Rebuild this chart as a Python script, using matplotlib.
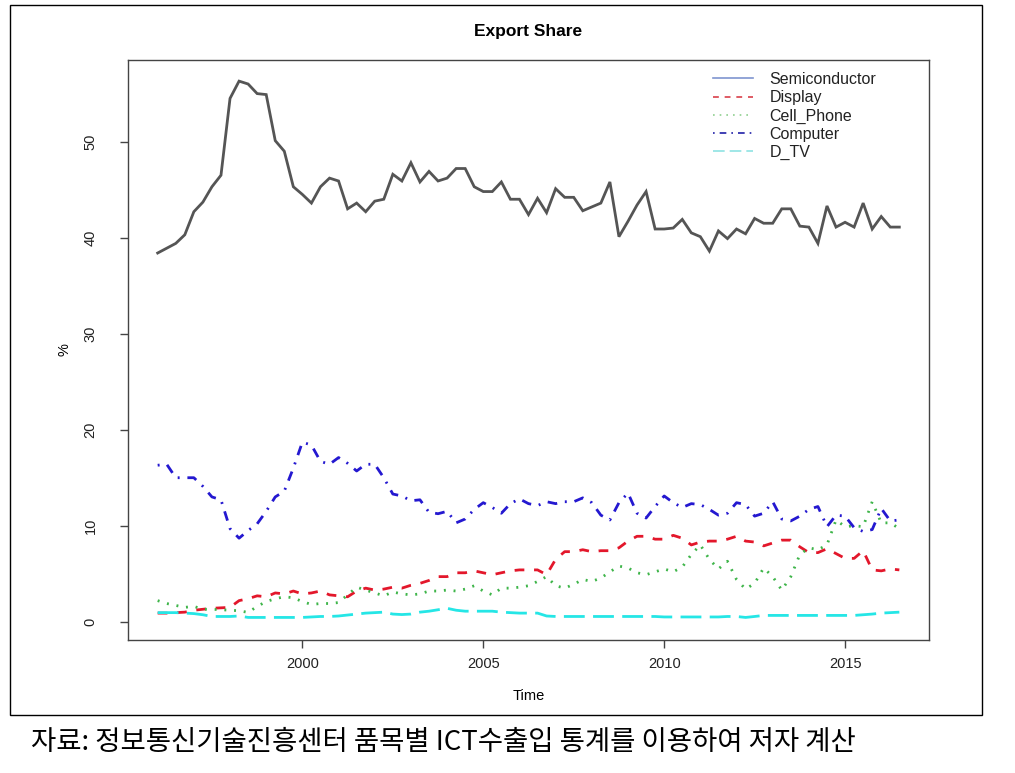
import numpy as np
import matplotlib
matplotlib.use('Agg')
import matplotlib.pyplot as plt
from matplotlib.lines import Line2D
from matplotlib.patches import Rectangle

# quarterly series, 1996 Q1 .. 2016 Q3
start_year = 1996
freq = 4

semiconductor = [38.4, 38.9, 39.4, 40.3, 42.7, 43.7, 45.3, 46.5, 54.5, 56.3,
                 56.0, 55.0, 54.9, 50.1, 49.0, 45.3, 44.5, 43.6, 45.3, 46.2,
                 45.9, 43.0, 43.6, 42.7, 43.8, 44.0, 46.6, 45.9, 47.8, 45.8,
                 46.9, 45.9, 46.2, 47.2, 47.2, 45.3, 44.8, 44.8, 45.8, 44.0,
                 44.0, 42.4, 44.1, 42.6, 45.1, 44.2, 44.2, 42.8, 43.2, 43.6,
                 45.8, 40.1, 41.7, 43.4, 44.8, 40.9, 40.9, 41.0, 41.9, 40.5,
                 40.1, 38.6, 40.7, 39.9, 40.9, 40.4, 42.0, 41.5, 41.5, 43.0,
                 43.0, 41.2, 41.1, 39.4, 43.3, 41.1, 41.6, 41.1, 43.6, 40.9,
                 42.2, 41.1, 41.1]
display = [0.9, 0.9, 0.95, 1.0, 1.2, 1.3, 1.4, 1.45, 1.5, 2.2,
           2.4, 2.7, 2.6, 3.0, 2.9, 3.2, 2.9, 3.0, 3.2, 2.8,
           2.7, 2.6, 3.2, 3.5, 3.3, 3.4, 3.6, 3.5, 3.8, 4.0,
           4.3, 4.7, 4.7, 5.1, 5.1, 5.3, 5.1, 4.9, 5.1, 5.3,
           5.4, 5.4, 5.4, 4.9, 6.5, 7.3, 7.3, 7.5, 7.3, 7.4,
           7.4, 7.7, 8.4, 8.9, 8.9, 8.6, 8.6, 9.0, 8.7, 8.0,
           8.3, 8.4, 8.4, 8.6, 8.9, 8.4, 8.3, 7.9, 8.2, 8.5,
           8.5, 7.8, 7.2, 7.2, 7.6, 7.1, 6.6, 6.6, 7.4, 5.4,
           5.3, 5.5, 5.4]
cell_phone = [2.2, 1.9, 1.7, 1.5, 1.6, 1.3, 1.3, 1.25, 1.2, 1.15,
              0.97, 1.6, 2.1, 2.4, 2.6, 2.5, 2.1, 1.8, 1.9, 1.9,
              2.0, 2.8, 3.6, 3.3, 3.0, 2.7, 3.1, 2.9, 2.8, 2.9,
              3.2, 3.2, 3.3, 3.2, 3.4, 3.75, 3.2, 2.8, 3.5, 3.5,
              3.6, 3.75, 4.2, 4.7, 3.75, 3.5, 3.9, 4.4, 4.2, 4.55,
              5.2, 5.8, 5.6, 5.1, 4.9, 5.2, 5.5, 5.2, 5.7, 7.0,
              8.0, 6.5, 5.5, 6.3, 4.4, 3.4, 4.0, 5.6, 4.7, 3.3,
              4.7, 7.0, 7.7, 7.5, 8.0, 10.6, 9.9, 10.0, 9.9, 12.5,
              10.3, 10.3, 9.7]
computer = [16.3, 16.4, 15.0, 15.0, 15.0, 14.1, 13.0, 12.7, 9.7, 8.7,
            9.5, 10.2, 11.5, 13.0, 13.6, 16.0, 18.7, 18.4, 16.7, 16.4,
            17.1, 16.5, 15.7, 16.4, 16.4, 15.0, 13.3, 13.1, 12.6, 12.7,
            11.4, 11.25, 11.5, 10.3, 10.7, 11.7, 12.4, 11.9, 11.3, 12.3,
            12.8, 12.3, 12.1, 12.5, 12.3, 12.5, 12.5, 12.9, 12.4, 11.1,
            10.6, 12.4, 13.4, 11.3, 10.8, 12.0, 13.1, 12.4, 11.9, 12.3,
            12.2, 11.7, 11.1, 11.3, 12.4, 12.2, 11.0, 11.3, 12.5, 10.7,
            10.5, 11.0, 11.7, 12.0, 9.9, 11.1, 11.0, 9.8, 9.4, 9.6,
            11.8, 10.5, 10.6]
d_tv = [0.95, 0.95, 0.95, 0.9, 0.85, 0.73, 0.55, 0.55, 0.55, 0.6,
        0.45, 0.45, 0.45, 0.45, 0.45, 0.45, 0.45, 0.5, 0.55, 0.55,
        0.6, 0.7, 0.8, 0.9, 0.95, 1.0, 0.8, 0.75, 0.8, 1.0,
        1.1, 1.25, 1.4, 1.2, 1.1, 1.1, 1.1, 1.1, 1.0, 0.95,
        0.9, 0.9, 0.9, 0.6, 0.55, 0.55, 0.55, 0.55, 0.55, 0.55,
        0.55, 0.55, 0.55, 0.55, 0.55, 0.55, 0.5, 0.5, 0.5, 0.5,
        0.5, 0.5, 0.5, 0.55, 0.55, 0.45, 0.55, 0.66, 0.66, 0.66,
        0.66, 0.66, 0.66, 0.66, 0.66, 0.66, 0.66, 0.66, 0.73, 0.8,
        0.9, 0.95, 1.0]

labels = ['Semiconductor', 'Display', 'Cell_Phone', 'Computer', 'D_TV']
caption = '자료: 정보통신기술진흥센터 품목별 ICT수출입 통계를 이용하여 저자 계산'

time = start_year + np.arange(len(semiconductor)) / freq

plt.rcParams['font.family'] = ['Liberation Sans', 'DejaVu Sans']

fig = plt.figure(figsize=(10.15, 7.73), dpi=100)
ax = fig.add_axes([128 / 1015, 1 - 640 / 773, (929 - 128) / 1015, (640 - 60) / 773])

lw = 2.0
ax.plot(time, semiconductor, color='#555555', lw=lw, solid_joinstyle='miter')
ax.plot(time, display, color='#e3172b', lw=lw, dashes=(3.5, 3.5))
ax.plot(time, cell_phone, color='#3fb54a', lw=lw, dashes=(0.7, 2.8))
ax.plot(time, computer, color='#2418d0', lw=lw, dashes=(0.7, 2.8, 3.5, 2.8))
ax.plot(time, d_tv, color='#25e6e6', lw=lw, dashes=(7.5, 3.0))

ax.set_xlim(1995.18, 2017.32)
ax.set_ylim(-1.9, 58.5)
ax.set_xticks([2000, 2005, 2010, 2015])
ax.set_yticks([0, 10, 20, 30, 40, 50])
ax.tick_params(axis='both', direction='out', length=6, width=1, color='#444444',
               labelsize=10.5, labelcolor='#222222')
ax.tick_params(axis='x', pad=6)
ax.tick_params(axis='y', pad=16)
for lab in ax.get_yticklabels():
    lab.set_rotation(90)
    lab.set_va('center')
for sp in ax.spines.values():
    sp.set_color('#444444')
    sp.set_linewidth(1)

ax.set_title('Export Share', fontsize=12.5, fontweight='bold', pad=17)
ax.set_xlabel('Time', fontsize=10.5, labelpad=13)
ax.set_ylabel('%', fontsize=10.5, labelpad=8.5)

# legend as drawn by R (thin lines, colours as in the original)
leg_colors = ['#7f95cf', '#d9404a', '#8fcf8f', '#2020a8', '#8fe3e3']
leg_dashes = [None, (3.5, 3.5), (1, 3), (1, 3, 4, 3), (7, 3)]
handles = []
for c, d in zip(leg_colors, leg_dashes):
    h = Line2D([], [], color=c, lw=1.2)
    if d is not None:
        h.set_dashes(d)
    handles.append(h)
ax.legend(handles, labels, loc='upper left', frameon=False,
          bbox_to_anchor=(705 / 1015, 1 - 64 / 773), bbox_transform=fig.transFigure,
          fontsize=11.5, handlelength=2.5, handletextpad=1.05, labelspacing=0.2,
          borderpad=0, labelcolor='#222222')

# outer frame around the R figure
fig.patches.append(Rectangle((10 / 1015, 1 - 715 / 773), (982 - 10) / 1015, (715 - 5) / 773,
                             transform=fig.transFigure, fill=False, ec='black', lw=1.0))

fig.text(31 / 1015, 1 - 742 / 773, caption, fontsize=19.8, va='center', ha='left',
         family=['Noto Sans CJK KR', 'DejaVu Sans'])

fig.savefig('out.png', dpi=100)
